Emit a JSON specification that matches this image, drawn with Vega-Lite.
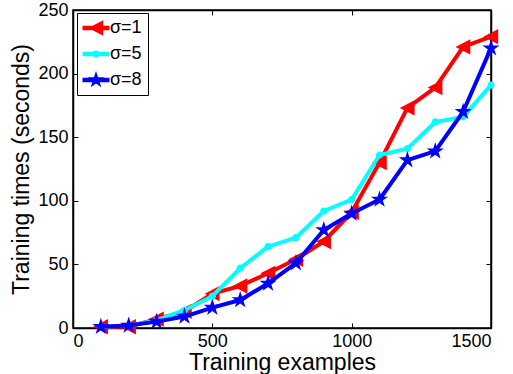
{
  "$schema": "https://vega.github.io/schema/vega-lite/v6.json",
  "width": 418,
  "height": 318,
  "autosize": {"type": "none"},
  "padding": {"left": 73, "top": 10, "right": 22, "bottom": 46},
  "background": "white",
  "config": {
    "view": {"stroke": "black", "strokeWidth": 1.5},
    "font": "Liberation Sans",
    "axis": {
      "grid": false,
      "domainColor": "black",
      "domainWidth": 1.5,
      "tickColor": "black",
      "tickWidth": 1,
      "tickSize": -5,
      "labelColor": "black",
      "titleColor": "black",
      "labelFont": "Liberation Sans",
      "titleFont": "Liberation Sans",
      "labelFontSize": 18,
      "titleFontSize": 23,
      "titleFontWeight": "normal",
      "format": "d"
    },
    "legend": {"symbolOpacity": 1, "symbolStrokeWidth": 0, "symbolSize": 324}
  },
  "data": {
    "values": [
      {"n": 100, "t": 1, "sigma": "σ=1"},
      {"n": 200, "t": 1, "sigma": "σ=1"},
      {"n": 300, "t": 7, "sigma": "σ=1"},
      {"n": 400, "t": 13, "sigma": "σ=1"},
      {"n": 500, "t": 27, "sigma": "σ=1"},
      {"n": 600, "t": 33, "sigma": "σ=1"},
      {"n": 700, "t": 43, "sigma": "σ=1"},
      {"n": 800, "t": 54, "sigma": "σ=1"},
      {"n": 900, "t": 68, "sigma": "σ=1"},
      {"n": 1000, "t": 91, "sigma": "σ=1"},
      {"n": 1100, "t": 130, "sigma": "σ=1"},
      {"n": 1200, "t": 173, "sigma": "σ=1"},
      {"n": 1300, "t": 189, "sigma": "σ=1"},
      {"n": 1400, "t": 221, "sigma": "σ=1"},
      {"n": 1500, "t": 229, "sigma": "σ=1"},
      {"n": 100, "t": 1, "sigma": "σ=5"},
      {"n": 200, "t": 2, "sigma": "σ=5"},
      {"n": 300, "t": 6, "sigma": "σ=5"},
      {"n": 400, "t": 14, "sigma": "σ=5"},
      {"n": 500, "t": 25, "sigma": "σ=5"},
      {"n": 600, "t": 47, "sigma": "σ=5"},
      {"n": 700, "t": 64, "sigma": "σ=5"},
      {"n": 800, "t": 71, "sigma": "σ=5"},
      {"n": 900, "t": 92, "sigma": "σ=5"},
      {"n": 1000, "t": 101, "sigma": "σ=5"},
      {"n": 1100, "t": 136, "sigma": "σ=5"},
      {"n": 1200, "t": 141, "sigma": "σ=5"},
      {"n": 1300, "t": 162, "sigma": "σ=5"},
      {"n": 1400, "t": 166, "sigma": "σ=5"},
      {"n": 1500, "t": 191, "sigma": "σ=5"},
      {"n": 100, "t": 1, "sigma": "σ=8"},
      {"n": 200, "t": 2, "sigma": "σ=8"},
      {"n": 300, "t": 5, "sigma": "σ=8"},
      {"n": 400, "t": 9, "sigma": "σ=8"},
      {"n": 500, "t": 16, "sigma": "σ=8"},
      {"n": 600, "t": 22, "sigma": "σ=8"},
      {"n": 700, "t": 35, "sigma": "σ=8"},
      {"n": 800, "t": 51, "sigma": "σ=8"},
      {"n": 900, "t": 77, "sigma": "σ=8"},
      {"n": 1000, "t": 90, "sigma": "σ=8"},
      {"n": 1100, "t": 101, "sigma": "σ=8"},
      {"n": 1200, "t": 132, "sigma": "σ=8"},
      {"n": 1300, "t": 139, "sigma": "σ=8"},
      {"n": 1400, "t": 170, "sigma": "σ=8"},
      {"n": 1500, "t": 220, "sigma": "σ=8"}
    ]
  },
  "layer": [
    {
      "transform": [{"filter": "datum.sigma === 'σ=1'"}],
      "mark": {"type": "line", "strokeWidth": 4, "strokeJoin": "round", "strokeCap": "round", "color": "#ff0000"},
      "encoding": {
        "x": {
          "field": "n", "type": "quantitative",
          "scale": {"domain": [0, 1500], "nice": false},
          "axis": {"orient": "bottom", "values": [0, 500, 1000, 1500], "title": "Training examples", "labelPadding": 9, "titleY": 41, "titleBaseline": "alphabetic"}
        },
        "y": {
          "field": "t", "type": "quantitative",
          "scale": {"domain": [0, 250], "nice": false},
          "axis": {"orient": "left", "values": [0, 50, 100, 150, 200, 250], "title": "Training times (seconds)", "labelPadding": 10}
        }
      }
    },
    {
      "transform": [{"filter": "datum.sigma === 'σ=1'"}],
      "mark": {"type": "point", "filled": true, "size": 324, "opacity": 1, "color": "#ff0000", "shape": "M-0.85,0L0.8,-0.85L0.8,0.85Z"},
      "encoding": {
        "x": {
          "field": "n", "type": "quantitative",
          "scale": {"domain": [0, 1500], "nice": false},
          "axis": {"orient": "top", "values": [0, 500, 1000, 1500], "labels": false, "title": null}
        },
        "y": {
          "field": "t", "type": "quantitative",
          "scale": {"domain": [0, 250], "nice": false},
          "axis": {"orient": "right", "values": [0, 50, 100, 150, 200, 250], "labels": false, "title": null}
        }
      }
    },
    {
      "transform": [{"filter": "datum.sigma === 'σ=5'"}],
      "mark": {"type": "line", "strokeWidth": 4, "strokeJoin": "round", "strokeCap": "round", "color": "#00ffff"},
      "encoding": {
        "x": {"field": "n", "type": "quantitative", "scale": {"domain": [0, 1500], "nice": false}, "axis": null},
        "y": {"field": "t", "type": "quantitative", "scale": {"domain": [0, 250], "nice": false}, "axis": null}
      }
    },
    {
      "transform": [{"filter": "datum.sigma === 'σ=5'"}],
      "mark": {"type": "point", "filled": true, "size": 324, "opacity": 1, "color": "#00ffff", "shape": "M-0.4,0A0.4,0.4 0 1,1 0.4,0A0.4,0.4 0 1,1 -0.4,0Z"},
      "encoding": {
        "x": {"field": "n", "type": "quantitative", "scale": {"domain": [0, 1500], "nice": false}, "axis": null},
        "y": {"field": "t", "type": "quantitative", "scale": {"domain": [0, 250], "nice": false}, "axis": null}
      }
    },
    {
      "transform": [{"filter": "datum.sigma === 'σ=8'"}],
      "mark": {"type": "line", "strokeWidth": 4, "strokeJoin": "round", "strokeCap": "round", "color": "#0000ff"},
      "encoding": {
        "x": {"field": "n", "type": "quantitative", "scale": {"domain": [0, 1500], "nice": false}, "axis": null},
        "y": {"field": "t", "type": "quantitative", "scale": {"domain": [0, 250], "nice": false}, "axis": null}
      }
    },
    {
      "transform": [{"filter": "datum.sigma === 'σ=8'"}],
      "mark": {"type": "point", "filled": true, "size": 324, "opacity": 1, "color": "#0000ff", "shape": "M0,-1L0.2245,-0.309L0.951,-0.309L0.363,0.118L0.588,0.809L0,0.382L-0.588,0.809L-0.363,0.118L-0.951,-0.309L-0.2245,-0.309Z"},
      "encoding": {
        "x": {"field": "n", "type": "quantitative", "scale": {"domain": [0, 1500], "nice": false}, "axis": null},
        "y": {"field": "t", "type": "quantitative", "scale": {"domain": [0, 250], "nice": false}, "axis": null}
      }
    },
    {
      "mark": {"type": "point", "filled": true, "size": 324, "opacity": 0},
      "encoding": {
        "x": {"field": "n", "type": "quantitative", "scale": {"domain": [0, 1500], "nice": false}, "axis": null},
        "y": {"field": "t", "type": "quantitative", "scale": {"domain": [0, 250], "nice": false}, "axis": null},
        "color": {
          "field": "sigma", "type": "nominal",
          "scale": {"domain": ["σ=1", "σ=5", "σ=8"], "range": ["#ff0000", "#00ffff", "#0000ff"]},
          "legend": {
            "title": null,
            "orient": "none",
            "legendX": 4,
            "legendY": 3,
            "padding": 6,
            "strokeColor": "black",
            "fillColor": "white",
            "cornerRadius": 0,
            "labelFont": "Liberation Sans",
            "labelFontSize": 18,
            "labelColor": "black",
            "labelOffset": 5,
            "rowPadding": 8,
            "symbolOffset": 4,
            "symbolOpacity": 1
          }
        },
        "shape": {
          "field": "sigma", "type": "nominal",
          "scale": {
            "domain": ["σ=1", "σ=5", "σ=8"],
            "range": [
              "M-1.5,-0.25H1.5V0.25H-1.5Z M-0.85,0L0.8,-0.85L0.8,0.85Z",
              "M-1.5,-0.25H1.5V0.25H-1.5Z M-0.4,0A0.4,0.4 0 1,1 0.4,0A0.4,0.4 0 1,1 -0.4,0Z",
              "M-1.5,-0.25H1.5V0.25H-1.5Z M0,-1L0.2245,-0.309L0.951,-0.309L0.363,0.118L0.588,0.809L0,0.382L-0.588,0.809L-0.363,0.118L-0.951,-0.309L-0.2245,-0.309Z"
            ]
          }
        }
      }
    }
  ],
  "resolve": {"axis": {"x": "independent", "y": "independent"}}
}
